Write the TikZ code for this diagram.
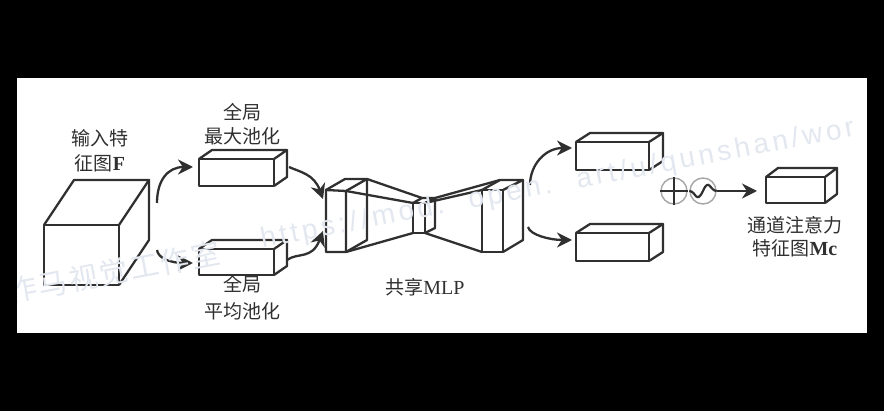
\documentclass[tikz,border=0pt]{standalone}
\usepackage{fontspec}
\setmainfont{Liberation Serif}
\newfontfamily\cjk{Noto Sans CJK SC}
\newfontfamily\wmcjk[LetterSpace=7]{Noto Sans CJK SC}
\newfontfamily\wmfont[LetterSpace=13]{Liberation Sans}
\usetikzlibrary{arrows.meta}
\definecolor{ink}{HTML}{303030}
\definecolor{wmark}{HTML}{E3E8F0}
\tikzset{
  x=0.5pt,y=-0.5pt,
  edge/.style={draw=ink,line width=1.15pt,line join=round},
  flow/.style={draw=ink,line width=1.15pt,-{Stealth[length=7.5pt,width=7.5pt]}},
  label/.style={text=ink,font=\fontsize{9.5}{11}\selectfont\cjk,align=center,inner sep=0pt},
  ring/.style={draw=black!35,line width=0.7pt,fill=white},
  mark line/.style={draw=ink,line width=1.1pt},
  watermark/.style={text=wmark,inner sep=0pt,anchor=base west,rotate=10.7}
}
% name, front x1,y1,x2,y2, depth dx,dy
\newcommand\cuboid[7]{%
  \coordinate (#1-tl) at (#2,#3);
  \coordinate (#1-tr) at (#4,#3);
  \coordinate (#1-bl) at (#2,#5);
  \coordinate (#1-br) at (#4,#5);
  \coordinate (#1-btl) at (#2+#6,#3+#7);
  \coordinate (#1-btr) at (#4+#6,#3+#7);
  \coordinate (#1-bbr) at (#4+#6,#5+#7);
  \draw[edge] (#1-tl) rectangle (#1-br);
  \draw[edge] (#1-tl) -- (#1-btl) -- (#1-btr) -- (#1-tr);
  \draw[edge] (#1-btr) -- (#1-bbr) -- (#1-br);
}
\begin{document}
\begin{tikzpicture}
\useasboundingbox (0,0) rectangle (884,411);
\fill[black] (0,0) rectangle (884,411);
\fill[white] (17,78) rectangle (867,333);

\cuboid{inp}{44}{225}{119}{285}{30}{-45}
\cuboid{mx}{199}{159}{274}{186}{13}{-9}
\cuboid{av}{199}{249}{274}{275}{13}{-9}
\cuboid{ra}{576}{142}{649}{170}{14}{-9}
\cuboid{rb}{576}{233}{649}{261}{14}{-9}
\cuboid{mc}{766}{177}{825}{203}{12}{-9}

% shared MLP
\coordinate (l1) at (326,190); \coordinate (l2) at (346,191);
\coordinate (l3) at (346,252); \coordinate (l4) at (326,252);
\coordinate (l5) at (345,179); \coordinate (l6) at (367,179);
\coordinate (l7) at (367,240);
\coordinate (s1) at (413,203); \coordinate (s2) at (425,203);
\coordinate (s3) at (425,233); \coordinate (s4) at (413,233);
\coordinate (s5) at (422,198); \coordinate (s6) at (435,198);
\coordinate (s7) at (435,228);
\coordinate (r1) at (482,190); \coordinate (r2) at (503,190);
\coordinate (r3) at (503,252); \coordinate (r4) at (482,252);
\coordinate (r5) at (500,180); \coordinate (r6) at (523,180);
\coordinate (r7) at (523,240);
\draw[edge] (l1) -- (l2) -- (l3) -- (l4) -- cycle;
\draw[edge] (l1) -- (l5) -- (l6) -- (l2);
\draw[edge] (l6) -- (l7) -- (l3);
\draw[edge] (l6) -- (s5);
\draw[edge] (l2) -- (s1);
\draw[edge] (l3) -- (s4);
\draw[edge] (s1) -- (s2) -- (s3) -- (s4) -- cycle;
\draw[edge] (s1) -- (s5) -- (s6) -- (s2);
\draw[edge] (s6) -- (s7) -- (s3);
\draw[edge] (s6) -- (r5);
\draw[edge] (s2) -- (r1);
\draw[edge] (s3) -- (r4);
\draw[edge] (r1) -- (r2) -- (r3) -- (r4) -- cycle;
\draw[edge] (r1) -- (r5) -- (r6) -- (r2);
\draw[edge] (r6) -- (r7) -- (r3);

% arrow ends
\coordinate (a1s) at (157,203); \coordinate (a1e) at (193,167);
\coordinate (a2s) at (157,250); \coordinate (a2e) at (193,263);
\coordinate (a3s) at (289,167); \coordinate (a3e) at (323,199);
\coordinate (a4s) at (287,260); \coordinate (a4e) at (323,231);
\coordinate (a5s) at (530,185); \coordinate (a5e) at (572,148);
\coordinate (a6s) at (528,227); \coordinate (a6e) at (572,240);
\draw[flow] (a1s) .. controls (157,180) and (168,167) .. (a1e);
\draw[flow] (a2s) .. controls (158,258) and (170,263) .. (a2e);
\draw[flow] (a3s) .. controls (300,172) and (314,174) .. (a3e);
\draw[flow] (a4s) .. controls (298,252) and (312,260) .. (a4e);
\draw[flow] (a5s) .. controls (530,165) and (545,148) .. (a5e);
\draw[flow] (a6s) .. controls (530,235) and (550,240) .. (a6e);

% combine symbols
\node[ring,circle,minimum size=13pt,inner sep=0pt] (plus) at (674,191) {};
\node[ring,circle,minimum size=13pt,inner sep=0pt] (sig) at (703,191) {};
\draw[mark line] (plus.west) -- (plus.east);
\draw[mark line] (plus.north) -- (plus.south);
\draw[mark line] (sig.west) .. controls (696,191) and (696,205) .. (703,191)
   .. controls (709,177) and (710,191) .. (sig.east);
\coordinate (a7e) at (757,191);
\draw[flow] (sig.east) -- (a7e);

% labels
\node[label] (t1) at (100,138) {输入特};
\node[label] (t2) at (100,163) {征图\fontspec{Liberation Serif}[Scale=1.05]\bfseries F};
\node[label] (t3) at (242,112) {全局};
\node[label] (t4) at (242,136) {最大池化};
\node[label] (t5) at (242,284) {全局};
\node[label] (t6) at (242,311) {平均池化};
\node[label] (t7) at (425,287) {共享\fontspec{Liberation Serif}[Scale=1.05]MLP};
\node[label] (t8) at (795,225) {通道注意力};
\node[label] (t9) at (795,248) {特征图\fontspec{Liberation Serif}[Scale=1.05]\bfseries Mc};

% watermark
\begin{scope}
\clip (17,78) rectangle (867,333);
\node[watermark] (wa) at (10,303) {\fontsize{14.5}{18}\selectfont\wmcjk 作马视觉工作室};
\node[watermark] (wb) at (262,248) {\fontsize{14}{18}\selectfont\wmfont https://mod.\hspace{5pt} open.\hspace{5pt} art/u/qunshan/wor};
\end{scope}
\end{tikzpicture}
\end{document}
